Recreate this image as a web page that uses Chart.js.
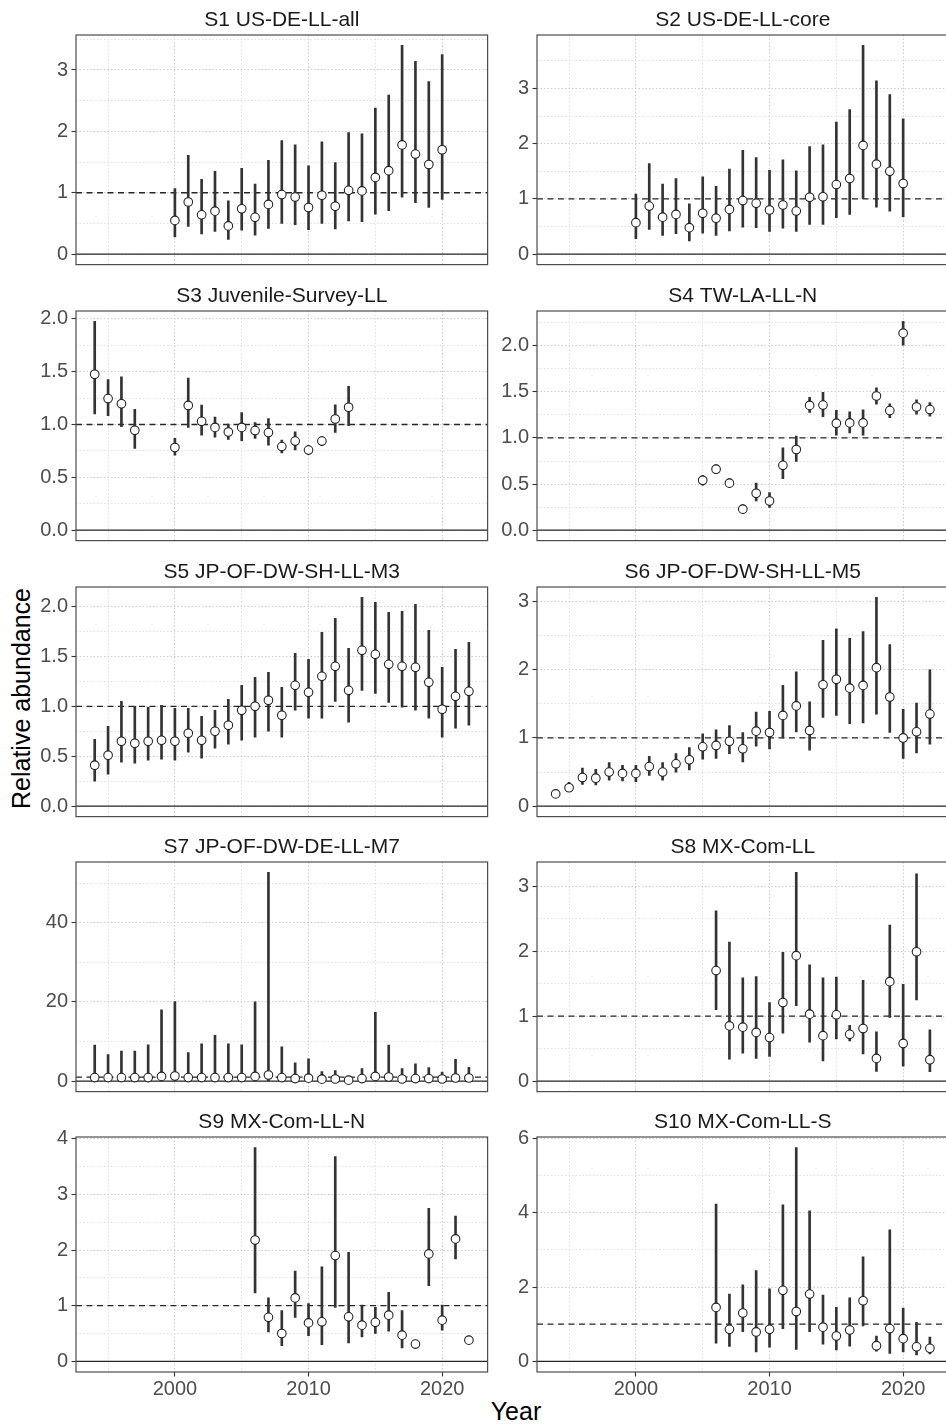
<!DOCTYPE html>
<html><head><meta charset="utf-8">
<script src="https://cdn.jsdelivr.net/npm/chart.js@4.4.1/dist/chart.umd.min.js"></script>
<style>
html,body{margin:0;padding:0;background:#fff;overflow:hidden;width:946px;height:1426px}
#wrap{position:relative;width:946px;height:1426px;overflow:hidden;background:#fff}
#wrap canvas{position:absolute}
.axt{position:absolute;font-family:"Liberation Sans",Arial,sans-serif;font-size:25px;color:#000;line-height:25px;height:25px;white-space:nowrap;text-align:center}
</style></head>
<body><div id="wrap">
<div class="axt" style="left:-129.4px;top:685.5px;width:300px;transform:rotate(-90deg)">Relative abundance</div>
<div class="axt" style="left:416px;top:1399px;width:200px">Year</div>
</div>
<script>
// ---------------- DATA ----------------
const titles = ["S1 US-DE-LL-all","S2 US-DE-LL-core","S3 Juvenile-Survey-LL","S4 TW-LA-LL-N","S5 JP-OF-DW-SH-LL-M3","S6 JP-OF-DW-SH-LL-M5","S7 JP-OF-DW-DE-LL-M7","S8 MX-Com-LL","S9 MX-Com-LL-N","S10 MX-Com-LL-S"];

const s1Years = [2000,2001,2002,2003,2004,2005,2006,2007,2008,2009,2010,2011,2012,2013,2014,2015,2016,2017,2018,2019,2020];
const s1Est = [0.55,0.85,0.64,0.70,0.46,0.74,0.60,0.81,0.97,0.93,0.76,0.96,0.78,1.04,1.03,1.25,1.36,1.78,1.63,1.46,1.70];
const s1Lo  = [0.28,0.45,0.33,0.37,0.24,0.39,0.31,0.42,0.50,0.48,0.40,0.50,0.41,0.54,0.53,0.65,0.71,0.93,0.84,0.76,0.89];
const s1Hi  = [1.07,1.61,1.22,1.35,0.87,1.40,1.14,1.53,1.85,1.78,1.44,1.83,1.49,1.98,1.96,2.38,2.59,3.40,3.14,2.81,3.25];

const s2Years = [2000,2001,2002,2003,2004,2005,2006,2007,2008,2009,2010,2011,2012,2013,2014,2015,2016,2017,2018,2019,2020];
const s2Est = [0.57,0.87,0.67,0.72,0.48,0.74,0.65,0.81,0.97,0.92,0.80,0.89,0.78,1.03,1.04,1.26,1.37,1.97,1.63,1.50,1.28];
const s2Lo  = [0.28,0.45,0.34,0.37,0.24,0.38,0.34,0.42,0.49,0.48,0.41,0.47,0.41,0.54,0.54,0.66,0.72,1.01,0.85,0.78,0.68];
const s2Hi  = [1.09,1.64,1.27,1.37,0.91,1.40,1.23,1.54,1.88,1.75,1.52,1.71,1.51,1.95,1.98,2.39,2.62,3.78,3.14,2.89,2.45];

const s3Years = [1994,1995,1996,1997,2000,2001,2002,2003,2004,2005,2006,2007,2008,2009,2010,2011,2012,2013];
const s3Est = [1.475,1.245,1.196,0.945,0.782,1.18,1.03,0.972,0.929,0.972,0.942,0.923,0.791,0.843,0.758,0.843,1.052,1.163];
const s3Lo  = [1.10,1.083,0.98,0.773,0.709,0.972,0.899,0.88,0.859,0.847,0.868,0.804,0.73,0.76,0.72,0.80,0.926,0.988];
const s3Hi  = [1.975,1.426,1.45,1.144,0.868,1.44,1.184,1.07,1.003,1.113,1.018,1.055,0.853,0.93,0.80,0.886,1.187,1.362];

const s4Years = [2005,2006,2007,2008,2009,2010,2011,2012,2013,2014,2015,2016,2017,2018,2019,2020,2021,2022];
const s4Est = [0.541,0.661,0.51,0.228,0.40,0.316,0.703,0.875,1.353,1.357,1.16,1.163,1.163,1.455,1.297,2.137,1.336,1.308];
const s4Lo  = [0.489,0.612,0.46,0.18,0.316,0.246,0.559,0.745,1.276,1.23,1.03,1.054,1.03,1.367,1.22,2.007,1.258,1.237];
const s4Hi  = [0.594,0.71,0.56,0.278,0.51,0.408,0.893,1.02,1.44,1.494,1.30,1.283,1.304,1.543,1.371,2.264,1.413,1.385];

const s5Years = [1994,1995,1996,1997,1998,1999,2000,2001,2002,2003,2004,2005,2006,2007,2008,2009,2010,2011,2012,2013,2014,2015,2016,2017,2018,2019,2020,2021,2022];
const s5Est = [0.41,0.51,0.65,0.63,0.65,0.66,0.65,0.73,0.66,0.75,0.81,0.96,1.00,1.06,0.91,1.21,1.14,1.30,1.40,1.16,1.56,1.52,1.42,1.40,1.39,1.24,0.97,1.10,1.15];
const s5Lo  = [0.25,0.32,0.44,0.43,0.46,0.47,0.46,0.54,0.48,0.58,0.62,0.66,0.69,0.75,0.69,0.96,0.88,0.88,1.05,0.84,1.16,1.13,1.04,0.99,0.96,0.88,0.69,0.78,0.81];
const s5Hi  = [0.67,0.80,1.05,1.00,0.99,1.01,0.98,0.98,0.90,0.96,1.07,1.21,1.29,1.34,1.19,1.53,1.47,1.74,1.88,1.58,2.09,2.04,1.94,1.95,2.02,1.76,1.39,1.57,1.64];

const s6Years = [1994,1995,1996,1997,1998,1999,2000,2001,2002,2003,2004,2005,2006,2007,2008,2009,2010,2011,2012,2013,2014,2015,2016,2017,2018,2019,2020,2021,2022];
const s6Est = [0.18,0.27,0.42,0.41,0.50,0.48,0.48,0.58,0.50,0.62,0.68,0.87,0.89,0.95,0.84,1.10,1.08,1.33,1.47,1.11,1.78,1.86,1.73,1.77,2.03,1.60,1.00,1.09,1.35];
const s6Lo  = [0.15,0.22,0.32,0.31,0.38,0.37,0.36,0.45,0.38,0.50,0.53,0.69,0.70,0.77,0.65,0.88,0.84,1.00,1.09,0.82,1.30,1.33,1.21,1.22,1.35,1.08,0.70,0.78,0.91];
const s6Hi  = [0.21,0.35,0.56,0.54,0.64,0.60,0.60,0.73,0.64,0.77,0.86,1.06,1.12,1.18,1.08,1.38,1.39,1.77,1.97,1.53,2.43,2.60,2.46,2.56,3.06,2.37,1.42,1.51,2.00];

const s7Years = [1994,1995,1996,1997,1998,1999,2000,2001,2002,2003,2004,2005,2006,2007,2008,2009,2010,2011,2012,2013,2014,2015,2016,2017,2018,2019,2020,2021,2022];
const s7Est = [0.9,0.9,0.9,0.9,0.9,1.2,1.3,0.9,0.9,0.9,0.9,0.9,1.2,1.55,0.9,0.65,0.75,0.5,0.55,0.25,0.65,1.2,1.05,0.55,0.65,0.65,0.55,0.8,0.8];
const s7Lo  = [0.09,0.10,0.10,0.11,0.09,0.08,0.08,0.11,0.09,0.07,0.09,0.09,0.07,0.05,0.09,0.09,0.10,0.10,0.11,0.16,0.13,0.08,0.12,0.10,0.10,0.12,0.13,0.12,0.18];
const s7Hi  = [9.1,6.7,7.6,7.6,9.2,18.0,20.1,7.2,9.4,11.6,9.4,9.2,20.0,52.7,8.7,4.6,5.65,2.4,2.7,0.4,3.2,17.4,9.1,3.2,4.4,3.4,2.3,5.5,3.5];

const s8Years = [2006,2007,2008,2009,2010,2011,2012,2013,2014,2015,2016,2017,2018,2019,2020,2021,2022];
const s8Est = [1.70,0.85,0.83,0.75,0.67,1.21,1.93,1.03,0.70,1.02,0.72,0.81,0.35,1.53,0.58,1.99,0.33];
const s8Lo  = [1.10,0.34,0.43,0.35,0.38,0.74,1.16,0.60,0.31,0.65,0.62,0.42,0.15,0.98,0.23,1.25,0.145];
const s8Hi  = [2.62,2.14,1.59,1.61,1.21,1.98,3.21,1.79,1.59,1.60,0.86,1.55,0.76,2.40,1.49,3.19,0.79];

const s9Years = [2006,2007,2008,2009,2010,2011,2012,2013,2014,2015,2016,2017,2018,2019,2020,2021,2022];
const s9Est = [2.18,0.79,0.50,1.14,0.69,0.71,1.90,0.80,0.65,0.70,0.83,0.47,0.31,1.93,0.74,2.20,0.38];
const s9Lo  = [1.23,0.53,0.28,0.79,0.46,0.30,0.97,0.33,0.44,0.50,0.54,0.24,0.27,1.36,0.56,1.84,0.33];
const s9Hi  = [3.84,1.14,0.91,1.62,1.04,1.70,3.68,1.96,1.01,0.97,1.24,0.91,0.35,2.75,1.01,2.61,0.43];

const s10Years = [2006,2007,2008,2009,2010,2011,2012,2013,2014,2015,2016,2017,2018,2019,2020,2021,2022];
const s10Est = [1.45,0.86,1.30,0.79,0.86,1.91,1.34,1.81,0.92,0.68,0.84,1.63,0.42,0.88,0.61,0.39,0.35];
const s10Lo  = [0.49,0.40,0.80,0.25,0.38,0.88,0.32,0.80,0.46,0.31,0.41,0.95,0.27,0.21,0.25,0.17,0.20];
const s10Hi  = [4.23,1.81,2.06,2.44,1.95,4.21,5.75,4.05,1.78,1.45,1.71,2.81,0.68,3.54,1.43,1.05,0.65];

// major tick labels
const xTicks = [2000,2010,2020];
const s1Ticks = [0,1,2,3];
const s2Ticks = [0,1,2,3];
const s3Ticks = [0.0,0.5,1.0,1.5,2.0];
const s4Ticks = [0.0,0.5,1.0,1.5,2.0];
const s5Ticks = [0.0,0.5,1.0,1.5,2.0];
const s6Ticks = [0,1,2,3];
const s7Ticks = [0,20,40];
const s8Ticks = [0,1,2,3];
const s9Ticks = [0,1,2,3,4];
const s10Ticks = [0,2,4,6];
const s3Dec = 1, s4Dec = 1, s5Dec = 1;

const refZero = 0;   // solid reference line
const refOne = 1;    // dashed reference line

// ---------------- LAYOUT / STYLE ----------------
const FONT = '"Liberation Sans", Arial, sans-serif';
const ROW_TOP = [35, 311, 587, 862, 1137];
const PANEL_H = 235, TITLE_H = 35, YAX_W = 76, PLOT_W = 417, XAX_H = 30;
const COL_LEFT = [0, 461];

const panels = [
  {t:titles[0], yr:s1Years, est:s1Est, lo:s1Lo, hi:s1Hi, tk:s1Ticks, dec:0},
  {t:titles[1], yr:s2Years, est:s2Est, lo:s2Lo, hi:s2Hi, tk:s2Ticks, dec:0},
  {t:titles[2], yr:s3Years, est:s3Est, lo:s3Lo, hi:s3Hi, tk:s3Ticks, dec:s3Dec},
  {t:titles[3], yr:s4Years, est:s4Est, lo:s4Lo, hi:s4Hi, tk:s4Ticks, dec:s4Dec},
  {t:titles[4], yr:s5Years, est:s5Est, lo:s5Lo, hi:s5Hi, tk:s5Ticks, dec:s5Dec},
  {t:titles[5], yr:s6Years, est:s6Est, lo:s6Lo, hi:s6Hi, tk:s6Ticks, dec:0},
  {t:titles[6], yr:s7Years, est:s7Est, lo:s7Lo, hi:s7Hi, tk:s7Ticks, dec:0},
  {t:titles[7], yr:s8Years, est:s8Est, lo:s8Lo, hi:s8Hi, tk:s8Ticks, dec:0},
  {t:titles[8], yr:s9Years, est:s9Est, lo:s9Lo, hi:s9Hi, tk:s9Ticks, dec:0},
  {t:titles[9], yr:s10Years, est:s10Est, lo:s10Lo, hi:s10Hi, tk:s10Ticks, dec:0}
];

// shared x range (ggplot 5% expansion)
const allYears = [].concat(...panels.map(p => p.yr));
const yrMin = Math.min(...allYears), yrMax = Math.max(...allYears);
const xPad = (yrMax - yrMin) * 0.05;
const xMin = yrMin - xPad, xMax = yrMax + xPad;
const xStep = xTicks[1] - xTicks[0];
const xAll = [];
for (let k = -6; k <= 12; k++) {
  const v = xTicks[0] + k * xStep / 2;
  if (v >= xMin && v <= xMax) xAll.push(v);
}

const panelDeco = {
  id: 'panelDeco',
  beforeDatasetsDraw(chart) {
    const {ctx, chartArea: a} = chart;
    const y = chart.scales.y;
    ctx.save();
    ctx.beginPath(); ctx.rect(a.left, a.top, a.right - a.left, a.bottom - a.top); ctx.clip();
    ctx.strokeStyle = '#262626'; ctx.lineWidth = 1.3;
    const y0 = y.getPixelForValue(refZero);
    ctx.setLineDash([]);
    ctx.beginPath(); ctx.moveTo(a.left, y0); ctx.lineTo(a.right, y0); ctx.stroke();
    const y1 = y.getPixelForValue(refOne);
    ctx.setLineDash([6, 4.5]);
    ctx.beginPath(); ctx.moveTo(a.left, y1); ctx.lineTo(a.right, y1); ctx.stroke();
    ctx.restore();
  },
  afterDraw(chart) {
    const {ctx, chartArea: a} = chart;
    ctx.save();
    ctx.strokeStyle = '#4d4d4d'; ctx.lineWidth = 1.2; ctx.setLineDash([]);
    ctx.strokeRect(a.left, a.top, a.right - a.left, a.bottom - a.top);
    ctx.restore();
  }
};

const wrap = document.getElementById('wrap');

panels.forEach((p, idx) => {
  const row = Math.floor(idx / 2), col = idx % 2;
  const bottom = row === 4;
  const w = YAX_W + PLOT_W, h = TITLE_H + PANEL_H + (bottom ? XAX_H : 0);
  const cv = document.createElement('canvas');
  cv.width = w; cv.height = h;
  cv.style.left = COL_LEFT[col] + 'px';
  cv.style.top = (ROW_TOP[row] - TITLE_H) + 'px';
  cv.style.width = w + 'px'; cv.style.height = h + 'px';
  wrap.appendChild(cv);

  const vals = p.lo.concat(p.hi, p.est, [refZero, refOne]);
  const vMin = Math.min(...vals), vMax = Math.max(...vals);
  const yPad = (vMax - vMin) * 0.05;
  const yMin = vMin - yPad, yMax = vMax + yPad;
  const step = p.tk[1] - p.tk[0];
  const yAll = [];
  for (let k = -2; k <= 2 * p.tk.length + 2; k++) {
    const v = +(p.tk[0] + k * step / 2).toFixed(6);
    if (v >= yMin && v <= yMax) yAll.push(v);
  }
  const isMajY = v => p.tk.some(t => Math.abs(t - v) < 1e-6);
  const isMajX = v => xTicks.includes(v);
  const tv = c => (c && c.tick) ? c.tick.value : NaN;

  new Chart(cv, {
    type: 'scatter',
    data: {
      datasets: [
        {
          type: 'bar',
          data: p.yr.map((x, i) => ({x: x, y: [p.lo[i], p.hi[i]]})),
          backgroundColor: '#333333',
          borderWidth: 0,
          barThickness: 2,
          maxBarThickness: 2,
          order: 1
        },
        {
          type: 'scatter',
          data: p.yr.map((x, i) => ({x: x, y: p.est[i]})),
          pointRadius: 4.3,
          pointHoverRadius: 4.3,
          pointBackgroundColor: '#ffffff',
          pointBorderColor: '#222222',
          pointBorderWidth: 1.1,
          order: 0
        }
      ]
    },
    options: {
      responsive: false,
      animation: false,
      devicePixelRatio: 1,
      layout: {padding: 0},
      events: [],
      plugins: {
        legend: {display: false},
        tooltip: {enabled: false},
        title: {
          display: true, text: p.t, fullSize: false, color: '#1a1a1a',
          font: {family: FONT, size: 21, weight: 'normal', lineHeight: 1.2},
          padding: {top: 7.8, bottom: 2}
        }
      },
      scales: {
        x: {
          type: 'linear', min: xMin, max: xMax, offset: false,
          afterBuildTicks: s => { s.ticks = xAll.map(v => ({value: v})); },
          afterFit: s => { s.height = bottom ? XAX_H : 0; s.paddingLeft = 0; s.paddingRight = 0; },
          ticks: {
            display: bottom, autoSkip: false, maxRotation: 0, padding: 1,
            color: '#4d4d4d', font: {family: FONT, size: 20},
            callback: v => isMajX(v) ? String(v) : ''
          },
          grid: {
            offset: false,
            color: c => isMajX(tv(c)) ? '#cdcdcd' : '#e0e0e0',
            lineWidth: 1, drawTicks: bottom, tickLength: 4.5,
            tickColor: c => isMajX(tv(c)) ? '#333333' : 'rgba(0,0,0,0)',
            tickWidth: 1.1
          },
          border: {display: false, dash: [1.5, 2]}
        },
        y: {
          type: 'linear', min: yMin, max: yMax,
          afterBuildTicks: s => { s.ticks = yAll.map(v => ({value: v})); },
          afterFit: s => { s.width = YAX_W; s.paddingTop = 0; s.paddingBottom = 0; },
          ticks: {
            autoSkip: false, padding: 3.5,
            color: '#4d4d4d', font: {family: FONT, size: 20},
            callback: v => isMajY(v) ? Number(v).toFixed(p.dec) : ''
          },
          grid: {
            color: c => isMajY(tv(c)) ? '#cdcdcd' : '#e0e0e0',
            lineWidth: 1, drawTicks: true, tickLength: 4.5,
            tickColor: c => isMajY(tv(c)) ? '#333333' : 'rgba(0,0,0,0)',
            tickWidth: 1.1
          },
          border: {display: false, dash: [1.5, 2]}
        }
      }
    },
    plugins: [panelDeco]
  });
});
</script>
</body></html>
